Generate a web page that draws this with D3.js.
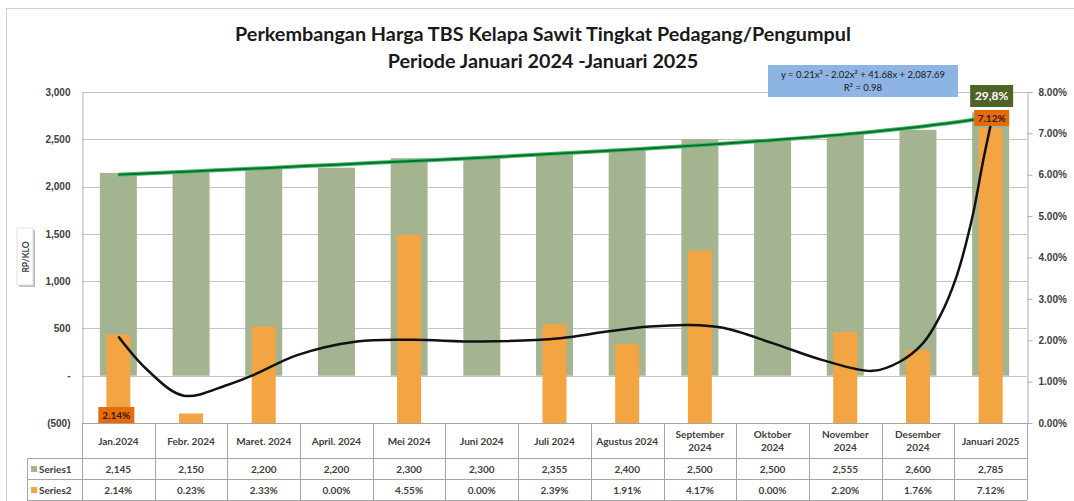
<!DOCTYPE html>
<html>
<head>
<meta charset="utf-8">
<script src="https://cdn.jsdelivr.net/npm/d3@7"></script>
<style>
  body { margin: 0; background: #fff; }
  svg { font-family: Lato, "Open Sans", sans-serif; }
  .tick text { fill: #404040; font-weight: bold; font-size: 10px; }
</style>
</head>
<body>
<div id="chart"></div>
<script>
// --- data ---
var categories = ["Jan.2024", "Febr. 2024", "Maret. 2024", "April. 2024", "Mei 2024", "Juni 2024",
  "Juli 2024", "Agustus 2024", "September 2024", "Oktober 2024", "November 2024", "Desember 2024", "Januari 2025"];
// header labels as shown in the data table (some wrap onto two lines)
var headerLines = [["Jan.2024"], ["Febr. 2024"], ["Maret. 2024"], ["April. 2024"], ["Mei 2024"], ["Juni 2024"],
  ["Juli 2024"], ["Agustus 2024"], ["September", "2024"], ["Oktober", "2024"], ["November", "2024"],
  ["Desember", "2024"], ["Januari 2025"]];
var series1 = [2145, 2150, 2200, 2200, 2300, 2300, 2355, 2400, 2500, 2500, 2555, 2600, 2785];
var series2 = [2.14, 0.23, 2.33, 0.00, 4.55, 0.00, 2.39, 1.91, 4.17, 0.00, 2.20, 1.76, 7.12];
// green trend line (Rp/kg) estimated at each month
var trend1 = [2125, 2160, 2195, 2232, 2268, 2306, 2346, 2390, 2438, 2490, 2552, 2630, 2730];
// black trend curve on series2, [month index, percent] estimated along the curve
var trend2 = [[0, 2.09], [0.4, 1.28], [0.9, 0.66], [1.5, 0.92], [1.86, 1.16], [2.46, 1.64], [3.28, 1.97],
  [4.05, 2.01], [4.98, 1.97], [6.08, 2.05], [6.72, 2.21], [7.31, 2.33], [7.86, 2.37], [8.32, 2.30],
  [9.0, 1.93], [9.69, 1.52], [10.38, 1.26], [10.75, 1.48], [11.07, 1.93], [11.3, 2.57], [11.53, 3.54],
  [11.75, 4.99], [11.89, 6.28], [12, 7.2]];
var leftTicks = [-500, 0, 500, 1000, 1500, 2000, 2500, 3000];
var rightTicks = [0, 1, 2, 3, 4, 5, 6, 7, 8];
var titleLines = ["Perkembangan Harga TBS Kelapa Sawit Tingkat Pedagang/Pengumpul",
  "Periode Januari 2024 -Januari 2025"];
var equationLines = ["y = 0.21x\u00b3 - 2.02x\u00b2 + 41.68x + 2,087.69", "R\u00b2 = 0.98"];
var topLabel = "29,8%";

var width = 1074, height = 501;
var plot = { left: 82, right: 1027, top: 92, bottom: 423 };
var table = { left: 27, header: 458, row1: 479, row2: 500 };

var green = "#a4b491", orange = "#f3a443", darkOrange = "#e46c0a", gridColor = "#c4c4c4";

var svg = d3.select("#chart").append("svg")
  .attr("width", width)
  .attr("height", height);

// outer chart frame
svg.append("rect")
  .attr("x", 6.5).attr("y", 8.5)
  .attr("width", width + 10).attr("height", height)
  .attr("fill", "none").attr("stroke", "#d0d0d0");

var x = d3.scaleBand().domain(categories).range([plot.left, plot.right]);
var xIdx = d3.scaleLinear().domain([0, categories.length - 1])
  .range([x(categories[0]) + x.bandwidth() / 2, x(categories[categories.length - 1]) + x.bandwidth() / 2]);
var y1 = d3.scaleLinear().domain([-500, 3000]).range([plot.bottom, plot.top]);
var y2 = d3.scaleLinear().domain([0, 8]).range([plot.bottom, plot.top]);

// gridlines
svg.append("g")
  .selectAll("line").data(leftTicks).join("line")
  .attr("x1", plot.left).attr("x2", plot.right)
  .attr("y1", d => Math.round(y1(d)) + 0.5).attr("y2", d => Math.round(y1(d)) + 0.5)
  .attr("stroke", gridColor);

// left axis
var fmtLeft = function(d) {
  if (d === 0) return "-";
  if (d < 0) return "(" + d3.format(",")(-d) + ")";
  return d3.format(",")(d);
};
var leftAxis = svg.append("g")
  .attr("transform", "translate(" + (plot.left + 0.5) + ",0)")
  .call(d3.axisLeft(y1).tickValues(leftTicks).tickFormat(fmtLeft).tickSize(0).tickPadding(12));
leftAxis.select(".domain").attr("stroke", "#b0b0b0");

// right axis
var rightAxis = svg.append("g")
  .attr("transform", "translate(" + (plot.right + 0.5) + ",0)")
  .call(d3.axisRight(y2).tickValues(rightTicks).tickFormat(d => d3.format(".2f")(d) + "%")
    .tickSizeInner(5).tickSizeOuter(0).tickPadding(6));
rightAxis.select(".domain").attr("stroke", "#b0b0b0");
rightAxis.selectAll(".tick line").attr("stroke", "#b0b0b0");

// series1 bars (primary axis)
var w1 = 37, w2 = 24;
svg.append("g")
  .selectAll("rect").data(series1).join("rect")
  .attr("x", (d, i) => x(categories[i]) + (x.bandwidth() - w1) / 2)
  .attr("width", w1)
  .attr("y", d => y1(d))
  .attr("height", d => y1(0) - y1(d))
  .attr("fill", green);

// series2 bars (secondary axis)
svg.append("g")
  .selectAll("rect").data(series2).join("rect")
  .attr("x", (d, i) => x(categories[i]) + (x.bandwidth() - w2) / 2)
  .attr("width", w2)
  .attr("y", d => y2(d))
  .attr("height", d => y2(0) - y2(d))
  .attr("fill", orange);

// green trend line
var line1 = d3.line()
  .x((d, i) => xIdx(i))
  .y(d => y1(d))
  .curve(d3.curveMonotoneX);
svg.append("path").datum(trend1)
  .attr("d", line1).attr("fill", "none")
  .attr("stroke", "#3cc06a").attr("stroke-width", 4);
svg.append("path").datum(trend1)
  .attr("d", line1).attr("fill", "none")
  .attr("stroke", "#136b2c").attr("stroke-width", 2);

// black polynomial curve
var line2 = d3.line()
  .x(d => xIdx(d[0]))
  .y(d => y2(d[1]))
  .curve(d3.curveCatmullRom);
svg.append("path").datum(trend2)
  .attr("d", line2).attr("fill", "none")
  .attr("stroke", "#111").attr("stroke-width", 2.5);

// data labels
function boxLabel(cx, top, w, h, fill, color, text, size) {
  svg.append("rect").attr("x", cx - w / 2).attr("y", top).attr("width", w).attr("height", h)
    .attr("fill", fill);
  svg.append("text").attr("x", cx).attr("y", top + h / 2).attr("dy", "0.35em")
    .attr("text-anchor", "middle").attr("font-size", size).attr("font-weight", "bold")
    .attr("fill", color).text(text);
}
var last = categories.length - 1;
boxLabel(xIdx(0) - 2, 407, 36, 17, darkOrange, "#3a1a00", d3.format(".2f")(series2[0]) + "%", 10);
boxLabel(xIdx(last) + 1, 110, 35, 16, darkOrange, "#3a1a00", d3.format(".2f")(series2[last]) + "%", 10);
boxLabel(xIdx(last) + 1, 85, 43, 22, "#4f6228", "#ffffff", topLabel, 12);

// equation box
svg.append("rect").attr("x", 768).attr("y", 65).attr("width", 190).attr("height", 32)
  .attr("fill", "#8db4e2");
svg.append("g").selectAll("text").data(equationLines).join("text")
  .attr("x", 863).attr("y", (d, i) => 75 + i * 13)
  .attr("dy", "0.35em").attr("text-anchor", "middle")
  .attr("font-size", 9.5).attr("fill", "#1a1a1a").text(d => d);

// title
svg.append("g").selectAll("text").data(titleLines).join("text")
  .attr("x", 543).attr("y", (d, i) => 41 + i * 27)
  .attr("text-anchor", "middle")
  .attr("font-size", 19.8).attr("font-weight", "bold").attr("fill", "#1a1a1a")
  .text(d => d);

// y axis title box
var yt = svg.append("g").attr("transform", "translate(26,257)");
yt.append("rect").attr("x", -7).attr("y", -27).attr("width", 16).attr("height", 57)
  .attr("fill", "#bdbdbd");
yt.append("rect").attr("x", -9).attr("y", -29).attr("width", 16).attr("height", 57)
  .attr("fill", "#fff").attr("stroke", "#e0e0e0");
yt.append("text").attr("transform", "rotate(-90)")
  .attr("x", 0).attr("y", 0).attr("dy", "0.35em")
  .attr("text-anchor", "middle").attr("font-size", 8.5).attr("font-weight", "bold")
  .attr("fill", "#404040").text("RP/KLO");

// data table
var tbl = svg.append("g").attr("stroke", "#a6a6a6").attr("fill", "none");
tbl.append("line").attr("x1", plot.left).attr("x2", plot.right)
  .attr("y1", plot.bottom + 0.5).attr("y2", plot.bottom + 0.5);
[table.header, table.row1, table.row2].forEach(function(yy) {
  tbl.append("line").attr("x1", table.left).attr("x2", plot.right)
    .attr("y1", yy + 0.5).attr("y2", yy + 0.5);
});
tbl.append("line").attr("x1", table.left + 0.5).attr("x2", table.left + 0.5)
  .attr("y1", table.header).attr("y2", table.row2);
tbl.selectAll("line.col").data(d3.range(categories.length + 1)).join("line")
  .attr("class", "col")
  .attr("x1", i => Math.round(plot.left + i * x.step()) + 0.5)
  .attr("x2", i => Math.round(plot.left + i * x.step()) + 0.5)
  .attr("y1", plot.bottom).attr("y2", table.row2);

var head = svg.append("g").attr("font-size", 10).attr("font-weight", "bold").attr("fill", "#404040")
  .attr("text-anchor", "middle");
head.selectAll("text").data(headerLines).join("text")
  .attr("x", (d, i) => xIdx(i))
  .attr("y", d => d.length > 1 ? 434 : 441)
  .each(function(d) {
    d3.select(this).selectAll("tspan").data(d).join("tspan")
      .attr("x", d3.select(this).attr("x"))
      .attr("dy", (t, j) => j === 0 ? "0.35em" : "1.35em")
      .text(t => t);
  });

var rowVals = [series1.map(d3.format(",")), series2.map(d => d3.format(".2f")(d) + "%")];
var rowY = [469, 490];
rowVals.forEach(function(vals, r) {
  head.append("g").selectAll("text").data(vals).join("text")
    .attr("x", (d, i) => xIdx(i)).attr("y", rowY[r]).attr("dy", "0.35em")
    .text(d => d);
});

// legend keys in the table
var keys = [["Series1", green], ["Series2", orange]];
keys.forEach(function(k, r) {
  svg.append("rect").attr("x", 31).attr("y", rowY[r] - 3).attr("width", 6).attr("height", 6).attr("fill", k[1]);
  svg.append("text").attr("x", 39).attr("y", rowY[r]).attr("dy", "0.35em")
    .attr("font-size", 10).attr("font-weight", "bold").attr("fill", "#404040").text(k[0]);
});
</script>
</body>
</html>
